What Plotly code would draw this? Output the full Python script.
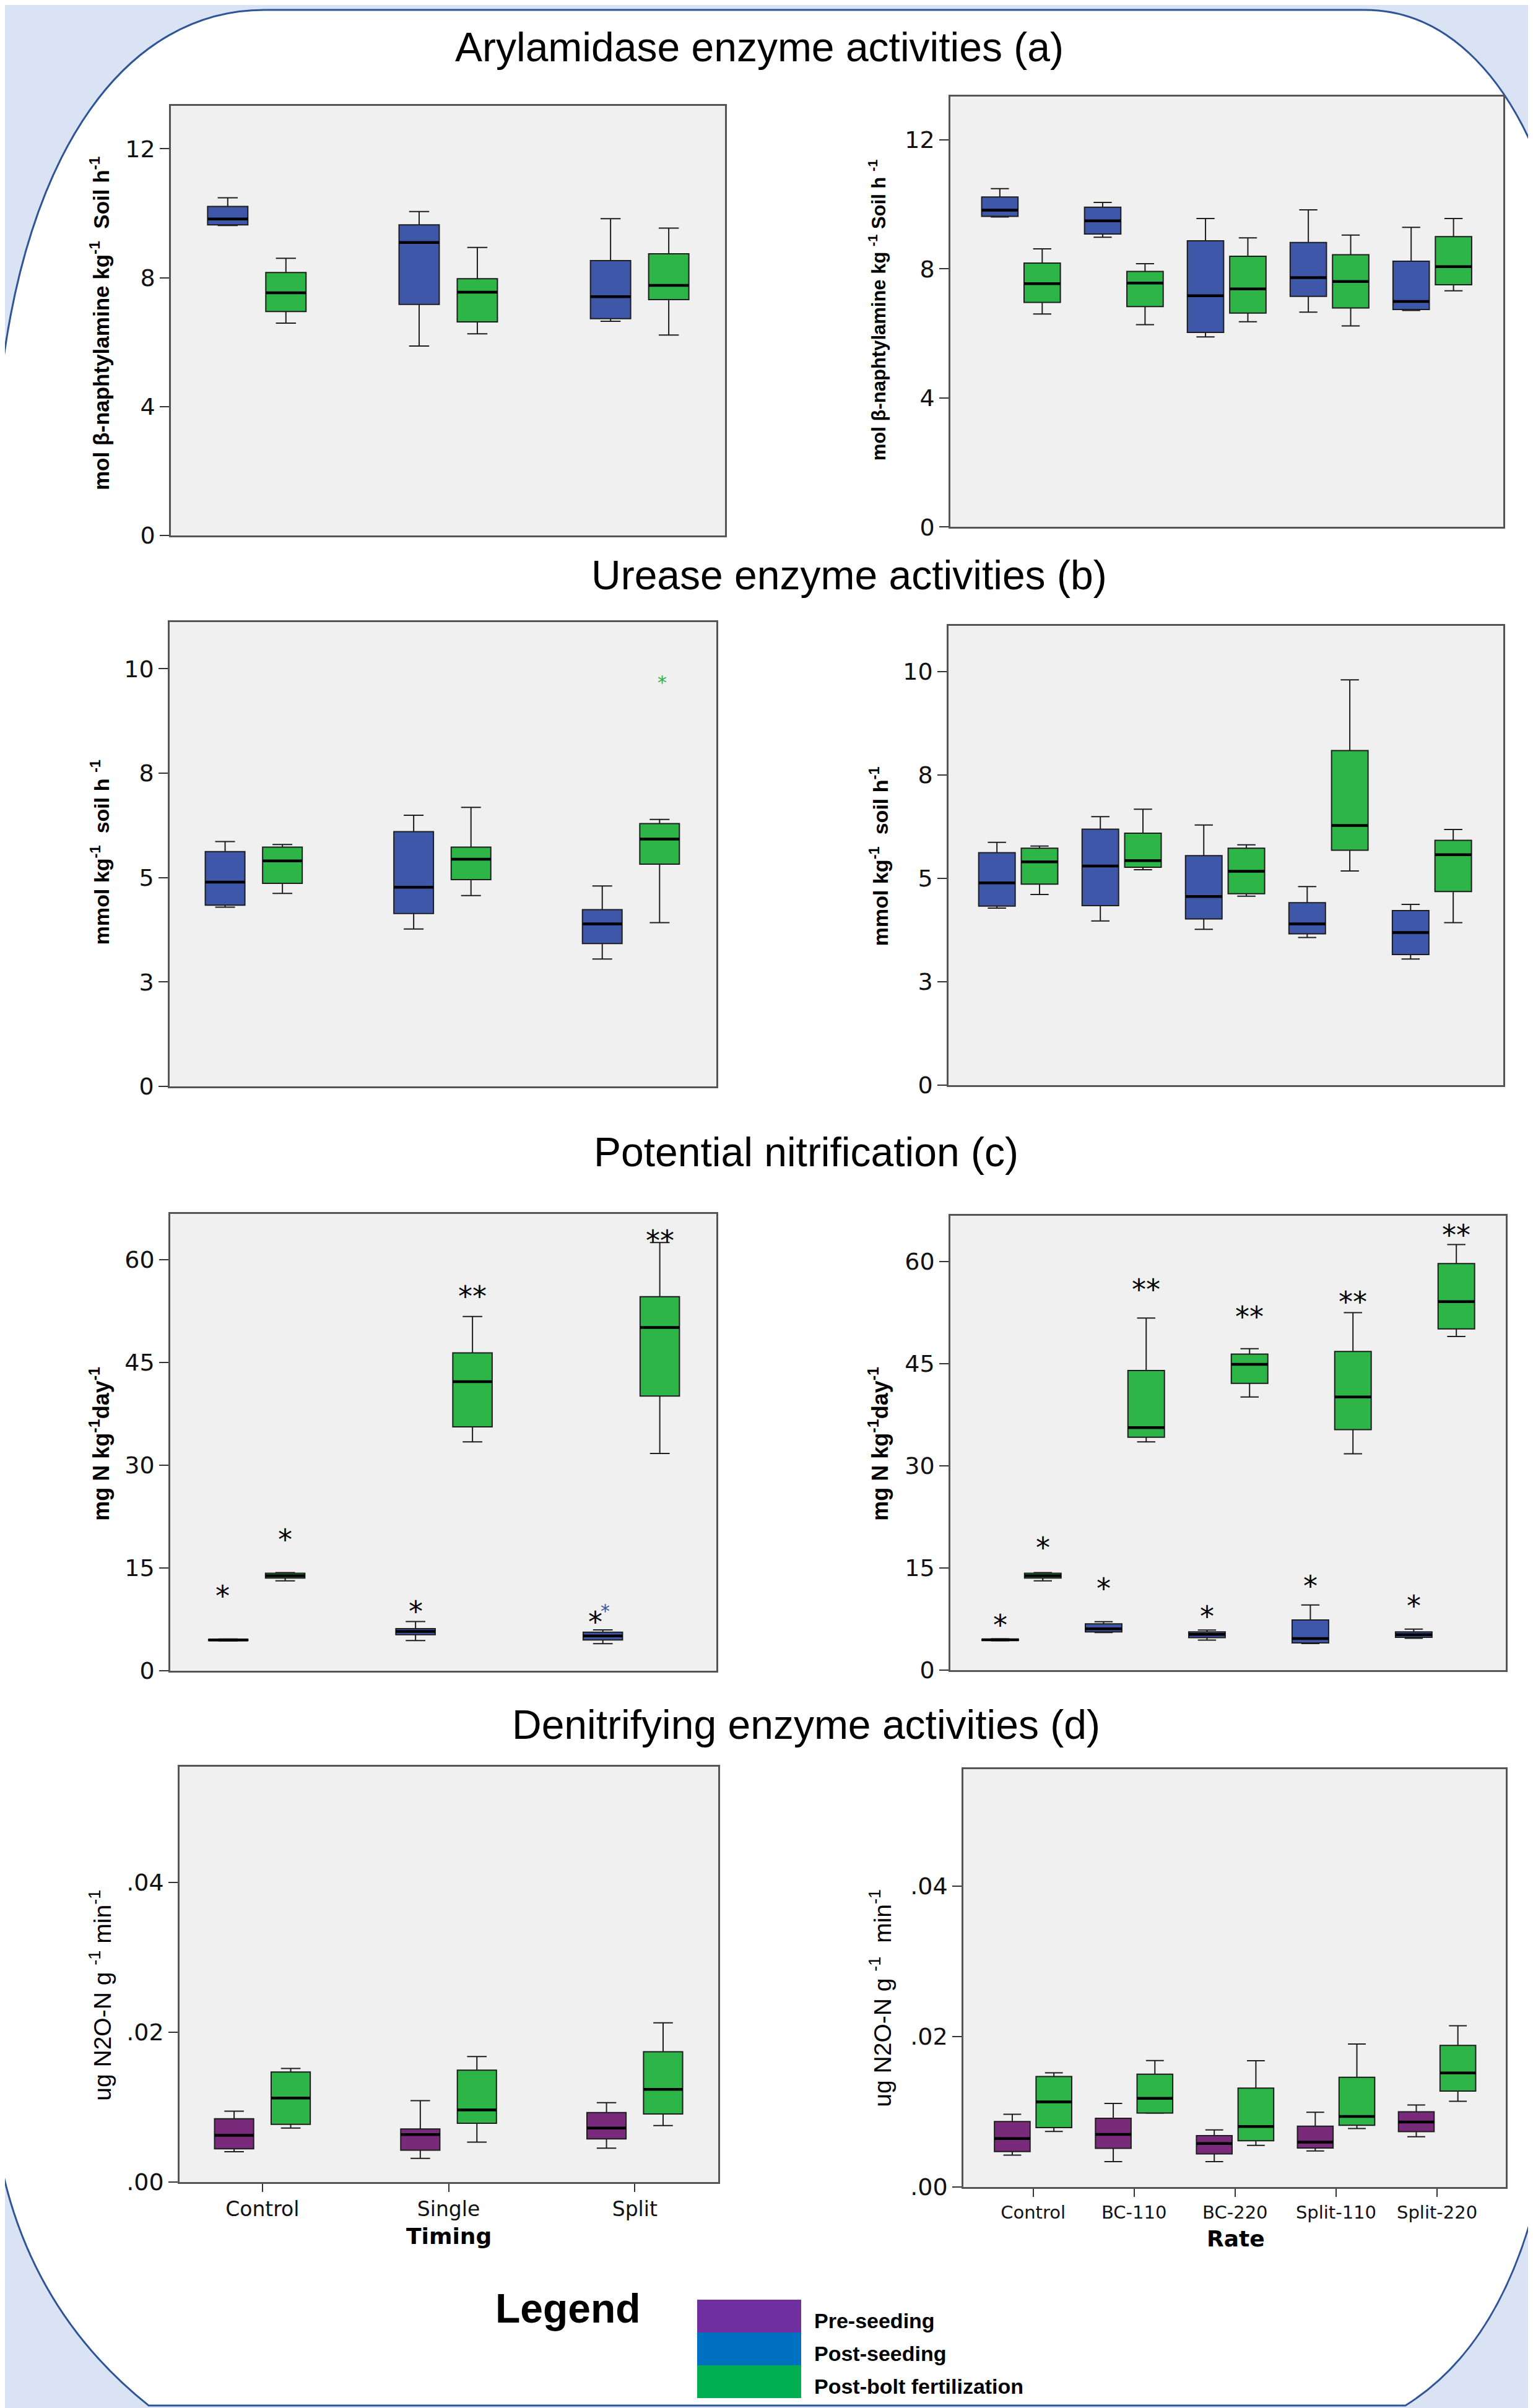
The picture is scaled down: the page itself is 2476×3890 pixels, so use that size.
import plotly.graph_objects as go

W, H = 2476, 3890

# ---------------- data ----------------
TIMING = ["Control", "Single", "Split"]
RATE = ["Control", "BC-110", "BC-220", "Split-110", "Split-220"]
SERIES_NAMES = ["Pre-seeding", "Post-seeding", "Post-bolt fertilization"]

# each box: [lower whisker, Q1, median, Q3, upper whisker]
aryl_timing_post_seeding = [[9.62, 9.64, 9.82, 10.21, 10.48], [5.88, 7.17, 9.09, 9.64, 10.05], [6.65, 6.73, 7.41, 8.53, 9.83]]
aryl_timing_post_bolt = [[6.59, 6.95, 7.53, 8.16, 8.60], [6.26, 6.63, 7.55, 7.97, 8.94], [6.22, 7.32, 7.76, 8.74, 9.54]]
aryl_rate_post_seeding = [[9.61, 9.63, 9.82, 10.23, 10.49], [8.98, 9.08, 9.49, 9.91, 10.06], [5.89, 6.03, 7.17, 8.87, 9.56],
                          [6.66, 7.15, 7.73, 8.82, 9.83], [6.71, 6.74, 6.99, 8.24, 9.29]]
aryl_rate_post_bolt = [[6.60, 6.96, 7.54, 8.18, 8.62], [6.27, 6.83, 7.56, 7.92, 8.16], [6.36, 6.63, 7.38, 8.39, 8.96],
                       [6.23, 6.79, 7.61, 8.44, 9.05], [7.32, 7.51, 8.07, 9.00, 9.56]]

urease_timing_post_seeding = [[4.29, 4.34, 4.89, 5.62, 5.86], [3.77, 4.14, 4.77, 6.10, 6.49], [3.05, 3.42, 3.89, 4.23, 4.80]]
urease_timing_post_bolt = [[4.62, 4.86, 5.40, 5.73, 5.79], [4.57, 4.95, 5.44, 5.73, 6.68], [3.92, 5.32, 5.92, 6.29, 6.39]]
urease_timing_outliers = [(2, 1, 9.80)]  # (category, series, value)
urease_rate_post_seeding = [[4.28, 4.33, 4.89, 5.62, 5.87], [3.97, 4.34, 5.30, 6.19, 6.49], [3.77, 4.02, 4.56, 5.55, 6.29],
                            [3.57, 3.66, 3.90, 4.41, 4.80], [3.05, 3.16, 3.69, 4.22, 4.37]]
urease_rate_post_bolt = [[4.61, 4.86, 5.40, 5.73, 5.78], [5.21, 5.27, 5.43, 6.09, 6.67], [4.57, 4.63, 5.17, 5.73, 5.81],
                         [5.18, 5.68, 6.28, 8.09, 9.80], [3.93, 4.68, 5.57, 5.92, 6.18]]

nitr_timing_post_seeding = [[4.34, 4.38, 4.47, 4.56, 4.60], [4.38, 5.23, 5.72, 6.12, 7.15], [3.93, 4.47, 5.05, 5.59, 5.95]]
nitr_timing_post_bolt = [[13.1, 13.5, 13.86, 14.2, 14.3], [33.4, 35.6, 42.2, 46.4, 51.7], [31.7, 40.1, 50.1, 54.6, 62.5]]
nitr_timing_outliers = [(2, 0, 9.48)]
nitr_timing_marks = [(0, 0, 12.1, "*"), (0, 1, 20.3, "*"), (1, 0, 9.8, "*"), (1, 1, 55.8, "**"),
                     (2, 0, 8.3, "*"), (2, 1, 64.0, "**")]
nitr_rate_post_seeding = [[4.29, 4.34, 4.43, 4.52, 4.57], [5.49, 5.58, 6.05, 6.78, 7.10], [4.38, 4.75, 5.22, 5.58, 5.86],
                          [3.88, 3.97, 4.62, 7.34, 9.55], [4.66, 4.80, 5.17, 5.58, 6.00]]
nitr_rate_post_bolt = [[13.1, 13.5, 13.85, 14.2, 14.3], [33.5, 34.2, 35.6, 44.0, 51.7], [40.1, 42.1, 44.9, 46.4, 47.2],
                       [31.75, 35.3, 40.1, 46.8, 52.5], [49.0, 50.1, 54.1, 59.7, 62.5]]
nitr_rate_marks = [(0, 0, 7.75, "*"), (0, 1, 19.15, "*"), (1, 0, 13.2, "*"), (1, 1, 57.1, "**"),
                   (2, 0, 9.05, "*"), (2, 1, 53.1, "**"), (3, 0, 13.5, "*"), (3, 1, 55.3, "**"),
                   (4, 0, 10.6, "*"), (4, 1, 65.1, "**")]

denit_timing_pre_seeding = [[0.00404, 0.00445, 0.00623, 0.00845, 0.00947], [0.00317, 0.00426, 0.00634, 0.00709, 0.01087],
                            [0.00453, 0.00577, 0.00721, 0.00928, 0.01060]]
denit_timing_post_bolt = [[0.00721, 0.00770, 0.01121, 0.01468, 0.01517], [0.00532, 0.00785, 0.00962, 0.01494, 0.01675],
                          [0.00755, 0.00910, 0.01238, 0.01740, 0.02125]]
denit_rate_pre_seeding = [[0.00424, 0.00470, 0.00644, 0.00869, 0.00967], [0.00337, 0.00513, 0.00700, 0.00912, 0.01110],
                          [0.00337, 0.00440, 0.00578, 0.00682, 0.00758], [0.00478, 0.00519, 0.00597, 0.00809, 0.00994],
                          [0.00668, 0.00736, 0.00864, 0.01000, 0.01089]]
denit_rate_post_bolt = [[0.00739, 0.00790, 0.01132, 0.01468, 0.01517], [0.00980, 0.00983, 0.01179, 0.01500, 0.01680],
                        [0.00554, 0.00614, 0.00804, 0.01315, 0.01678], [0.00777, 0.00820, 0.00937, 0.01458, 0.01900],
                        [0.01140, 0.01275, 0.01515, 0.01882, 0.02143]]

TICKS_A = [0, 4, 8, 12]
TICKS_B = [0, 2.5, 5, 7.5, 10]
TICKS_B_TEXT = ["0", "3", "5", "8", "10"]
TICKS_C = [0, 15, 30, 45, 60]
TICKS_D = [0, 0.02, 0.04]
TICKS_D_TEXT = [".00", ".02", ".04"]

# ---------------- styles ----------------
BLUE = "#3f57a9"
GREEN = "#2eb548"
PURPLE = "#7a2a7b"
LEG_COLORS = ["#7030a0", "#0070c0", "#00b050"]
PAGE_BG = "#dae3f3"
FRAME_BLUE = "#2f5597"
PANEL_BG = "#f0f0f0"
ARIAL = "Liberation Sans, Arial, sans-serif"
DEJA = "DejaVu Sans, sans-serif"
# small horizontal nudges (pixels) for some significance marks: (panel, category, series) -> shift
MARK_XSHIFT = {(5, 0, 0): -9, (5, 2, 0): -12}


def px(xp):
    return xp / W


def py(yp):
    return 1 - yp / H


# panel layouts: frame (left, top, right, bottom) in pixels
panels = [
    dict(cats=TIMING, series=[(aryl_timing_post_seeding, BLUE), (aryl_timing_post_bolt, GREEN)],
         frame=(268, 164, 1163, 862), xr=(-0.449, 2.446), yr=(0, 13.33), ytv=TICKS_A, ytt=None,
         title="mol β-naphtylamine kg<sup>-1</sup>  Soil h<sup>-1</sup>", tpos=(153, 518), tsize=35, tbold=True),
    dict(cats=RATE, series=[(aryl_rate_post_seeding, BLUE), (aryl_rate_post_bolt, GREEN)],
         frame=(1527, 149, 2420, 848), xr=(-0.687, 4.69), yr=(0, 13.34), ytv=TICKS_A, ytt=None,
         title="mol β-naphtylamine kg <sup>-1</sup> Soil h <sup>-1</sup>", tpos=(1409, 496), tsize=31, tbold=True),
    dict(cats=TIMING, series=[(urease_timing_post_seeding, BLUE), (urease_timing_post_bolt, GREEN)],
         frame=(266, 1003, 1149, 1757), xr=(-0.446, 2.453), yr=(0, 11.11), ytv=TICKS_B, ytt=TICKS_B_TEXT,
         outliers=urease_timing_outliers,
         title="mmol kg<sup>-1</sup>  soil h <sup>-1</sup>", tpos=(153, 1377), tsize=34, tbold=True),
    dict(cats=RATE, series=[(urease_rate_post_seeding, BLUE), (urease_rate_post_bolt, GREEN)],
         frame=(1524, 1009, 2420, 1755), xr=(-0.674, 4.69), yr=(0, 11.10), ytv=TICKS_B, ytt=TICKS_B_TEXT,
         title="mmol kg<sup>-1</sup>  soil h<sup>-1</sup>", tpos=(1411, 1383), tsize=34, tbold=True),
    dict(cats=TIMING, series=[(nitr_timing_post_seeding, BLUE), (nitr_timing_post_bolt, GREEN)],
         frame=(267, 1964, 1149, 2706), xr=(-0.4615, 2.454), yr=(0, 66.7), ytv=TICKS_C, ytt=None,
         outliers=nitr_timing_outliers, marks=nitr_timing_marks,
         title="mg N kg<sup>-1</sup>day<sup>-1</sup>", tpos=(153, 2338), tsize=36, tbold=True),
    dict(cats=RATE, series=[(nitr_rate_post_seeding, BLUE), (nitr_rate_post_bolt, GREEN)],
         frame=(1527, 1967, 2424, 2705), xr=(-0.688, 4.684), yr=(0, 66.74), ytv=TICKS_C, ytt=None,
         marks=nitr_rate_marks,
         title="mg N kg<sup>-1</sup>day<sup>-1</sup>", tpos=(1411, 2338), tsize=36, tbold=True),
    dict(cats=TIMING, series=[(denit_timing_pre_seeding, PURPLE), (denit_timing_post_bolt, GREEN)],
         frame=(282, 2862, 1152, 3537), xr=(-0.445, 2.448), yr=(0, 0.05547), ytv=TICKS_D, ytt=TICKS_D_TEXT,
         xlabels=True, xfont=dict(family=DEJA, size=33, color="#111"),
         title="ug N2O-N g <sup>-1</sup> min<sup>-1</sup>", tpos=(154, 3234), tsize=39, tbold=False),
    dict(cats=RATE, series=[(denit_rate_pre_seeding, PURPLE), (denit_rate_post_bolt, GREEN)],
         frame=(1548, 2866, 2424, 3545), xr=(-0.69, 4.68), yr=(0, 0.05556), ytv=TICKS_D, ytt=TICKS_D_TEXT,
         xlabels=True, xfont=dict(family=DEJA, size=29, color="#111"),
         title="ug N2O-N g <sup>-1</sup>  min<sup>-1</sup>", tpos=(1414, 3238), tsize=39, tbold=False),
]

fig = go.Figure()
shapes = []
annotations = []

# page decoration: white rounded panel on light blue page
outline_px = [
    ("M", [(419, 8)]),
    ("L", [(2196, 8)]),
    ("C", [(2330, 8), (2440, 120), (2500, 320)]),
    ("L", [(2500, 3420)]),
    ("C", [(2470, 3660), (2390, 3820), (2262, 3900)]),
    ("L", [(232, 3900)]),
    ("C", [(120, 3810), (25, 3680), (-10, 3490)]),
    ("L", [(-10, 640)]),
    ("C", [(30, 230), (200, 8), (419, 8)]),
]
path = " ".join(cmd + " " + " ".join(f"{px(a):.5f},{py(b):.5f}" for a, b in pts) for cmd, pts in outline_px) + " Z"
shapes.append(dict(type="path", xref="paper", yref="paper", path=path, fillcolor="white",
                   line=dict(color=FRAME_BLUE, width=3), layer="below"))

for i, p in enumerate(panels, start=1):
    xa, ya = f"x{i}", f"y{i}"
    l, t, r, b = p["frame"]
    n = len(p["cats"])
    left_panel = n == 3
    off = 0.152 if left_panel else 0.206
    bw = 0.21 if left_panel else 0.353
    offsets = [-off, off]

    shapes.append(dict(type="rect", xref="paper", yref="paper", x0=px(l), x1=px(r), y0=py(b), y1=py(t),
                       fillcolor=PANEL_BG, line=dict(width=0), layer="below"))

    for s, (data, color) in enumerate(p["series"]):
        pos = [k + offsets[s] for k in range(n)]
        fig.add_trace(go.Box(
            x=pos, lowerfence=[d[0] for d in data], q1=[d[1] for d in data], median=[d[2] for d in data],
            q3=[d[3] for d in data], upperfence=[d[4] for d in data], width=bw,
            fillcolor=color, line=dict(color="#1e1e1e", width=2), whiskerwidth=0.5,
            boxpoints=False, showlegend=False, hoverinfo="skip", xaxis=xa, yaxis=ya))
        mx, my = [], []
        for k, d in enumerate(data):
            mx += [pos[k] - bw / 2, pos[k] + bw / 2, None]
            my += [d[2], d[2], None]
        fig.add_trace(go.Scatter(x=mx, y=my, mode="lines", line=dict(color="black", width=4.5),
                                 showlegend=False, hoverinfo="skip", xaxis=xa, yaxis=ya))

    # extreme-value markers (small coloured stars)
    for (k, s, v) in p.get("outliers", []):
        color = p["series"][s][1]
        annotations.append(dict(x=k + offsets[s], y=v, xref=xa, yref=ya, text="*", showarrow=False,
                                font=dict(family=DEJA, size=30, color=color), yshift=-9, xshift=4))

    # significance marks
    for (k, s, v, txt) in p.get("marks", []):
        annotations.append(dict(x=k + offsets[s], y=v, xref=xa, yref=ya, text=txt, showarrow=False,
                                font=dict(family=DEJA, size=46, color="black"), yshift=-13,
                                xshift=MARK_XSHIFT.get((i, k, s), 0)))

    xlabels = p.get("xlabels", False)
    fig.update_layout(**{
        f"xaxis{i}": dict(domain=[px(l), px(r)], range=list(p["xr"]), anchor=ya,
                          showline=True, mirror=True, linecolor="#555", linewidth=2.5,
                          showgrid=False, zeroline=False,
                          tickmode="array", tickvals=list(range(n)), ticktext=p["cats"],
                          showticklabels=xlabels, ticks="outside" if xlabels else "",
                          ticklen=13, tickwidth=2, tickcolor="#333",
                          tickfont=p.get("xfont", dict(family=DEJA, size=30))),
        f"yaxis{i}": dict(domain=[py(b), py(t)], range=list(p["yr"]), anchor=xa,
                          showline=True, mirror=True, linecolor="#555", linewidth=2.5,
                          showgrid=False, zeroline=False,
                          tickmode="array", tickvals=p["ytv"],
                          ticktext=p["ytt"] if p["ytt"] else [str(v) for v in p["ytv"]],
                          ticks="outside", ticklen=15, tickwidth=2, tickcolor="#333",
                          tickfont=dict(family=DEJA, size=38, color="#111")),
    })

    tx, ty = p["tpos"]
    ttxt = f"<b>{p['title']}</b>" if p["tbold"] else p["title"]
    annotations.append(dict(x=px(tx), y=py(ty), xref="paper", yref="paper", text=ttxt, textangle=-90,
                            showarrow=False, xanchor="center", yanchor="middle",
                            font=dict(family=ARIAL, size=p["tsize"], color="black")))

# section titles
section_titles = [
    ("Arylamidase enzyme activities (a)", 1218, 68),
    ("Urease enzyme activities (b)", 1363, 926),
    ("Potential nitrification (c)", 1294, 1864),
    ("Denitrifying enzyme activities (d)", 1294, 2794),
]
for txt, x0, y0 in section_titles:
    annotations.append(dict(x=px(x0), y=py(y0), xref="paper", yref="paper", text=txt, showarrow=False,
                            xanchor="center", yanchor="middle", font=dict(family=ARIAL, size=66, color="black")))

# x-axis titles
for txt, x0, y0 in [("Timing", 717, 3625), ("Rate", 1988, 3629)]:
    annotations.append(dict(x=px(x0), y=py(y0), xref="paper", yref="paper", text=f"<b>{txt}</b>",
                            showarrow=False, xanchor="center", yanchor="middle",
                            font=dict(family=DEJA, size=36, color="black")))

# custom legend
annotations.append(dict(x=px(909), y=py(3742), xref="paper", yref="paper", text="<b>Legend</b>",
                        showarrow=False, xanchor="center", yanchor="middle",
                        font=dict(family=ARIAL, size=66, color="black")))
leg_top, leg_h = 3728, 53.3
for j, (name, col) in enumerate(zip(SERIES_NAMES, LEG_COLORS)):
    y0 = leg_top + j * leg_h
    shapes.append(dict(type="rect", xref="paper", yref="paper", x0=px(1118), x1=px(1286),
                       y0=py(y0 + leg_h), y1=py(y0), fillcolor=col, line=dict(width=0), layer="above"))
    annotations.append(dict(x=px(1305), y=py(y0 + 34), xref="paper", yref="paper", text=f"<b>{name}</b>",
                            showarrow=False, xanchor="left", yanchor="middle",
                            font=dict(family=ARIAL, size=34, color="black")))

fig.update_layout(width=W, height=H, margin=dict(l=0, r=0, t=0, b=0),
                  paper_bgcolor=PAGE_BG, plot_bgcolor="rgba(0,0,0,0)",
                  shapes=shapes, annotations=annotations, showlegend=False)

fig.write_html("out.html")
